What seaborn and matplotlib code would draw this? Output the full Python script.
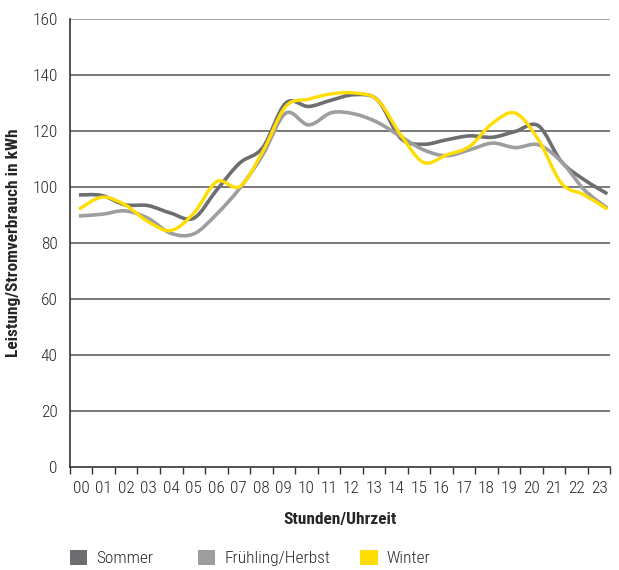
import numpy as np
import matplotlib
matplotlib.use("Agg")
import matplotlib.pyplot as plt
from matplotlib.path import Path
from matplotlib.patches import PathPatch, Patch
import seaborn as sns

hours = ["00", "01", "02", "03", "04", "05", "06", "07", "08", "09", "10", "11",
         "12", "13", "14", "15", "16", "17", "18", "19", "20", "21", "22", "23"]
sommer = [97.1, 96.9, 93.6, 93.3, 90.6, 88.8, 98.9, 108.5, 114.0, 129.9, 128.7, 131.0,
          132.9, 131.0, 117.4, 115.2, 116.8, 118.2, 117.7, 119.8, 121.8, 109.0, 102.5, 97.5]
fruehling = [89.6, 90.2, 91.4, 88.8, 83.4, 83.2, 90.3, 99.5, 111.4, 126.3, 122.1, 126.5,
             126.0, 123.0, 118.0, 113.2, 111.1, 113.2, 115.6, 114.0, 115.0, 109.0, 98.9, 92.4]
winter = [92.0, 96.3, 93.6, 87.6, 84.4, 90.6, 101.9, 100.1, 112.6, 128.7, 131.3, 133.2,
          133.5, 131.0, 118.6, 108.7, 111.4, 114.4, 122.7, 126.3, 116.8, 101.3, 97.1, 92.0]
series_names = ["Sommer", "Frühling/Herbst", "Winter"]
series_values = [sommer, fruehling, winter]
colors = ["#6d6e71", "#9d9ea0", "#ffdd00"]
yticks = [0, 20, 40, 60, 80, 100, 120, 140, 160]

sns.set_theme(style="white")
plt.rcParams["font.family"] = ["Roboto Condensed", "DejaVu Sans"]

fig = plt.figure(figsize=(6.19, 5.70), dpi=100)
ax = fig.add_axes([0.113, 0.181, 0.873, 0.786])

ax.set_ylim(0, 160)
ax.set_xlim(-0.5, len(hours) - 0.5)
ax.set_yticks(yticks)
ax.set_yticklabels([str(v) for v in yticks], fontsize=12.5, color="#2a2a2a", fontweight="light")
ax.set_xticks(np.arange(len(hours)))
ax.set_xticklabels(hours, fontsize=12.5, color="#2a2a2a", fontweight="light")
ax.set_xticks(np.arange(len(hours) + 1) - 0.5, minor=True)
ax.tick_params(axis="x", which="major", length=0, pad=10)
ax.tick_params(axis="x", which="minor", length=5, width=1, color="#333333", direction="out")
ax.tick_params(axis="y", length=6, width=1, color="#333333", direction="out", pad=3)
for v in yticks[1:]:
    ax.axhline(v, color="#888888" if v == 160 else "#555555", lw=1.1, zorder=1)
for s in ["top", "right"]:
    ax.spines[s].set_visible(False)
ax.spines["left"].set_color("#333333")
ax.spines["left"].set_linewidth(1.2)
ax.spines["bottom"].set_color("#333333")
ax.spines["bottom"].set_linewidth(1.2)

ax.set_ylabel("Leistung/Stromverbrauch in kWh", fontsize=12.5, fontweight="bold", labelpad=8)
ax.set_xlabel("Stunden/Uhrzeit", fontsize=12.5, fontweight="bold", labelpad=12)

# line axis (points sit slightly offset from the category band centers)
ax2 = ax.twiny()
ax2.set_xlim(-0.392, 23.13)
ax2.set_ylim(0, 160)
ax2.axis("off")


def smooth_path(xs, ys):
    pts = np.column_stack([xs, ys]).astype(float)
    ext = np.vstack([pts[0], pts, pts[-1]])
    verts = [tuple(pts[0])]
    codes = [Path.MOVETO]
    for i in range(len(pts) - 1):
        p0, p1, p2, p3 = ext[i], ext[i + 1], ext[i + 2], ext[i + 3]
        c1 = p1 + (p2 - p0) / 6.0
        c2 = p2 - (p3 - p1) / 6.0
        verts += [tuple(c1), tuple(c2), tuple(p2)]
        codes += [Path.CURVE4] * 3
    return Path(verts, codes)


xs = np.arange(len(hours))
widths = [2.6, 2.6, 2.4]
for name, vals, c, w in zip(series_names, series_values, colors, widths):
    patch = PathPatch(smooth_path(xs, vals), facecolor="none", edgecolor=c, lw=w,
                      capstyle="butt", joinstyle="round", zorder=3)
    ax2.add_patch(patch)

legend_x = [0.113, 0.320, 0.582]
for n, c, lx in zip(series_names, colors, legend_x):
    leg = fig.legend(handles=[Patch(facecolor=c, edgecolor="none", label=n)],
                     loc="center left", bbox_to_anchor=(lx, 0.021), frameon=False,
                     handlelength=1.0, handleheight=1.0,
                     handletextpad=0.5, borderpad=0, borderaxespad=0,
                     prop={"weight": "light", "size": 12.5})
    for t in leg.get_texts():
        t.set_color("#2a2a2a")

fig.savefig("out.png", dpi=100)
